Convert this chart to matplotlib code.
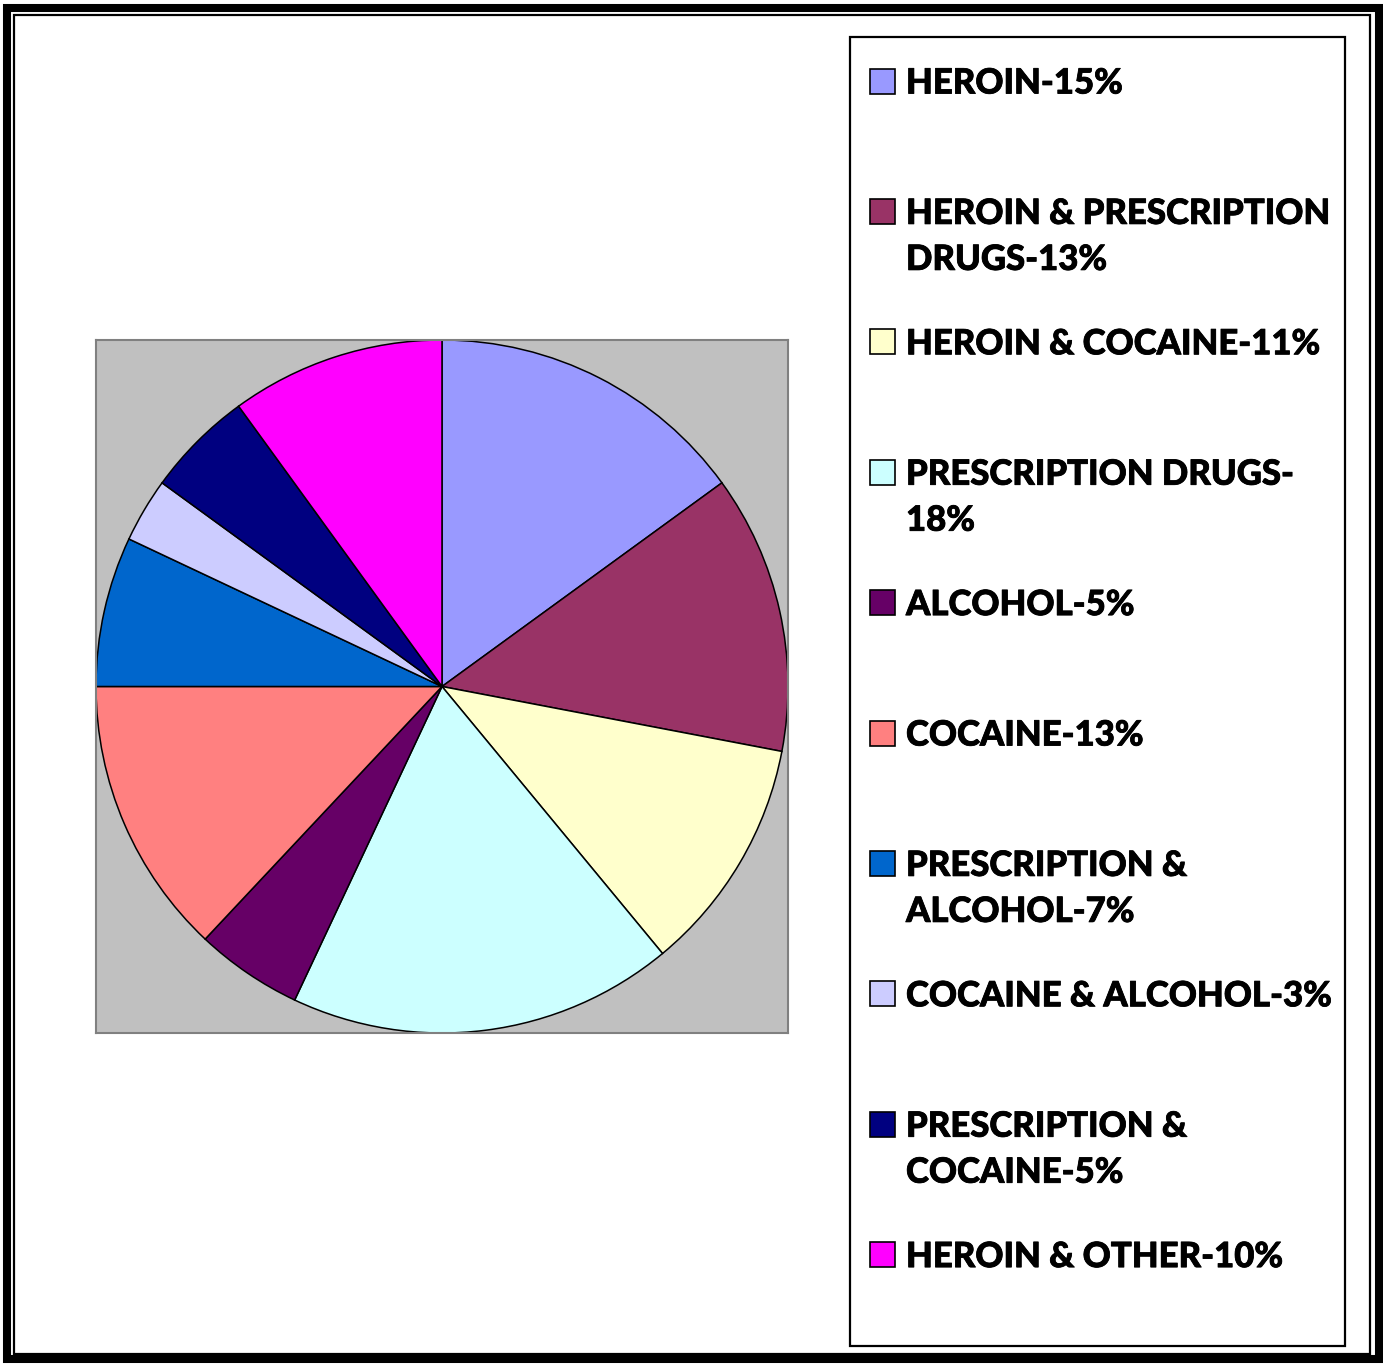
import matplotlib
matplotlib.use('Agg')
import matplotlib.pyplot as plt
import matplotlib.patheffects as pe
from matplotlib.patches import Rectangle

W, H = 1383, 1364
DPI = 100

# ===== DATA =====
labels = ['HEROIN-15%', 'HEROIN & PRESCRIPTION\nDRUGS-13%', 'HEROIN & COCAINE-11%',
          'PRESCRIPTION DRUGS-\n18%', 'ALCOHOL-5%', 'COCAINE-13%',
          'PRESCRIPTION &\nALCOHOL-7%', 'COCAINE & ALCOHOL-3%',
          'PRESCRIPTION &\nCOCAINE-5%', 'HEROIN & OTHER-10%']
values = [15, 13, 11, 18, 5, 13, 7, 3, 5, 10]
colors = ['#9999FF', '#993366', '#FFFFCC', '#CCFFFF', '#660066',
          '#FF8080', '#0066CC', '#CCCCFF', '#000080', '#FF00FF']

fig = plt.figure(figsize=(W / DPI, H / DPI), dpi=DPI)
fig.patch.set_facecolor('white')


def px_rect(x0, y0, x1, y1, **kw):
    # rectangle in pixel coords (origin top-left)
    r = Rectangle((x0 / W, 1 - y1 / H), (x1 - x0) / W, (y1 - y0) / H,
                  transform=fig.transFigure, **kw)
    fig.patches.append(r)
    return r


# ===== OUTER DOUBLE BORDER =====
px_rect(7, 8, 1379, 1359, fill=False, edgecolor='black', linewidth=5.8)
px_rect(14, 15, 1370, 1354, fill=False, edgecolor='black', linewidth=1.6)

# ===== PIE =====
ax = fig.add_axes([96 / W, 1 - 1033 / H, 692 / W, 693 / H])
ax.pie(values, colors=colors, startangle=90, counterclock=False, radius=1,
       wedgeprops=dict(edgecolor='black', linewidth=1.1))
ax.set_frame_on(True)
ax.set_facecolor('#C0C0C0')
ax.set_xlim(-1, 1)
ax.set_ylim(-1, 1)
ax.set_aspect('auto')
ax.set_xticks([])
ax.set_yticks([])
for s in ax.spines.values():
    s.set_color('#808080')
    s.set_linewidth(1.5)
    s.set_visible(True)

# ===== LEGEND =====
px_rect(850, 37, 1345, 1346, facecolor='white', edgecolor='black', linewidth=1.6)
step = 130.4
for i, (lab, col) in enumerate(zip(labels, colors)):
    cy = 81 + step * i
    px_rect(870, cy - 12.5, 895, cy + 12.5, facecolor=col, edgecolor='black', linewidth=1.2)
    for j, line in enumerate(lab.split('\n')):
        base = cy + 12.5 + 46 * j
        fig.text(906 / W, 1 - base / H, line, ha='left', va='baseline',
                 fontsize=25, fontweight='black', family=['Lato', 'DejaVu Sans'],
                 color='black',
                 path_effects=[pe.withStroke(linewidth=0.6, foreground='black')])

fig.savefig('out.png', dpi=DPI, facecolor='white')
